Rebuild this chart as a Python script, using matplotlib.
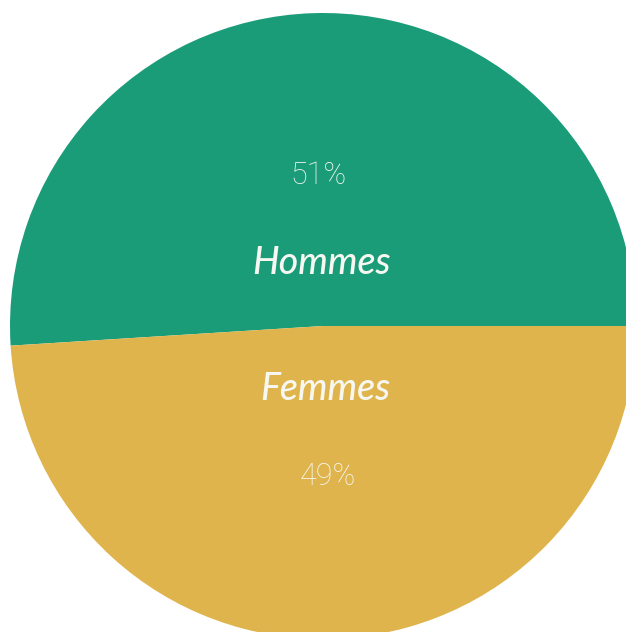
import matplotlib
matplotlib.use("Agg")
import matplotlib.pyplot as plt

# données
categories = ["Hommes", "Femmes"]
parts = [51, 49]
couleurs = ["#1b9c78", "#e0b44c"]

W, H = 626, 632
cx, cy, r = 323, 326, 313

fig = plt.figure(figsize=(W / 100, H / 100), dpi=100)
ax = fig.add_axes([0, 0, 1, 1])

wedges, labels, pcts = ax.pie(parts, labels=categories, colors=couleurs,
                              startangle=0, counterclock=True,
                              autopct="%d%%", labeldistance=0.2, pctdistance=0.48,
                              wedgeprops=dict(linewidth=0))

for t in labels:
    t.set_ha("center")
    t.set_va("center")
    t.set_color("#f7f7f2")
    t.set_fontfamily("Lato")
    t.set_fontstyle("italic")
    t.set_fontweight("medium")
    t.set_fontsize(27)

for t in pcts:
    t.set_ha("center")
    t.set_va("center")
    t.set_color("#f7f7f2")
    t.set_fontfamily("Roboto")
    t.set_fontweight("light")
    t.set_fontsize(22)

ax.set_xlim(-cx / r, (W - cx) / r)
ax.set_ylim(-(H - cy) / r, cy / r)
ax.set_aspect("auto")
ax.axis("off")

fig.savefig("out.png", dpi=100)
